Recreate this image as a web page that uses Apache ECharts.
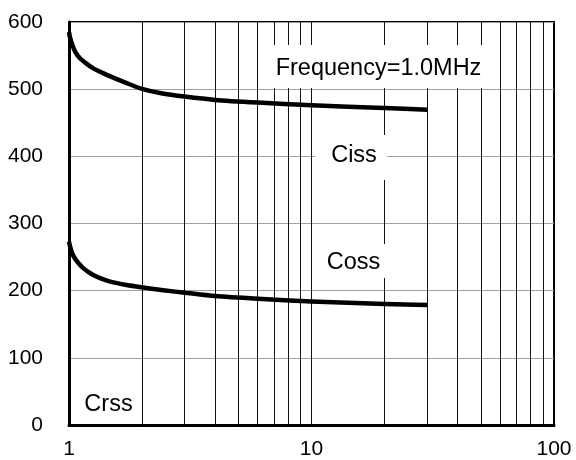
<!DOCTYPE html>
<html>
<head>
<meta charset="utf-8">
<script src="https://cdn.jsdelivr.net/npm/echarts@6/dist/echarts.min.js"></script>
<style>
  html, body { margin: 0; padding: 0; background: #fff; }
  #chart { width: 576px; height: 460px; }
</style>
</head>
<body>
<div id="chart"></div>
<script>
// Capacitance vs. drain-source voltage (log scale), f = 1.0 MHz
const cissV = [1, 1.01, 1.03, 1.06, 1.11, 1.18, 1.26, 1.36, 1.48, 1.73, 2, 2.4, 3, 4, 6, 10, 20, 30];
const cissC = [585, 577, 567, 556, 546, 538, 531, 525, 519, 509, 500.5, 494, 489, 484, 480, 476, 472, 469.5];
const cossV = [1, 1.01, 1.03, 1.058, 1.1, 1.145, 1.2, 1.26, 1.36, 1.48, 1.73, 2, 2.4, 3, 4, 6, 10, 20, 30];
const cossC = [273, 266, 256, 248, 240, 233.5, 228, 223.5, 218, 213.5, 208.5, 205, 201, 197, 192, 188, 184, 180, 178.5];
const minorGridX = [2, 3, 4, 5, 6, 7, 8, 9, 10, 20, 30, 40, 50, 60, 70, 80, 90];
const yTicks = [0, 100, 200, 300, 400, 500, 600];
const xTicks = [1, 10, 100];

const FONT = 'Liberation Sans, Arial, sans-serif';

function pairs(xs, ys) { return xs.map((x, i) => [x, ys[i]]); }

const chart = echarts.init(document.getElementById('chart'), null, { renderer: 'canvas' });

// white-backed annotation: box + centred text
function note(text, cx, cy, box) {
  const els = [];
  if (box) {
    els.push({
      type: 'rect', z: 100,
      shape: { x: box[0], y: box[1], width: box[2] - box[0], height: box[3] - box[1] },
      style: { fill: '#fff' }
    });
  }
  els.push({
    type: 'text', z: 101, x: cx, y: cy,
    style: { text: text, fill: '#000', font: '23.5px ' + FONT, textAlign: 'center', textVerticalAlign: 'middle' }
  });
  return els;
}

chart.setOption({
  animation: false,
  backgroundColor: '#fff',
  grid: { left: 69, right: 22, top: 22, bottom: 35, show: true, borderColor: '#000', borderWidth: 2 },
  xAxis: {
    type: 'log', logBase: 10, min: 1, max: 100,
    axisLine: { show: true, onZero: false, lineStyle: { color: '#000', width: 3 } },
    axisTick: { show: false },
    splitLine: { show: false },
    axisLabel: {
      color: '#000', fontSize: 21, fontFamily: FONT, margin: 14,
      formatter: v => (xTicks.includes(Math.round(v)) ? String(Math.round(v)) : '')
    }
  },
  yAxis: {
    type: 'value', min: 0, max: 600, interval: 100,
    axisLine: { show: true, lineStyle: { color: '#000', width: 3 } },
    axisTick: { show: false },
    splitLine: { show: true, lineStyle: { color: '#a0a0a0', width: 1 } },
    axisLabel: {
      color: '#000', fontSize: 21, fontFamily: FONT, margin: 26,
      formatter: v => (yTicks.includes(v) ? String(v) : '')
    }
  },
  series: [
    {
      name: 'Ciss', type: 'line', data: pairs(cissV, cissC),
      smooth: 0.25, showSymbol: false, z: 5,
      lineStyle: { color: '#000', width: 4.5, cap: 'butt', join: 'round' },
      markLine: {
        silent: true, symbol: ['none', 'none'], label: { show: false },
        lineStyle: { color: '#111', width: 1, type: 'solid' },
        data: minorGridX.map(x => ({ xAxis: x }))
      }
    },
    {
      name: 'Coss', type: 'line', data: pairs(cossV, cossC),
      smooth: 0.25, showSymbol: false, z: 5,
      lineStyle: { color: '#000', width: 4.5, cap: 'butt', join: 'round' }
    }
  ],
  graphic: [
    ...note('Frequency=1.0MHz', 378.5, 69, [266, 45, 490, 88]),
    ...note('Ciss', 354, 156, [315, 135, 387, 180]),
    ...note('Coss', 353.5, 263, [320, 244, 387, 278]),
    ...note('Crss', 108.5, 405, null)
  ]
});
</script>
</body>
</html>
